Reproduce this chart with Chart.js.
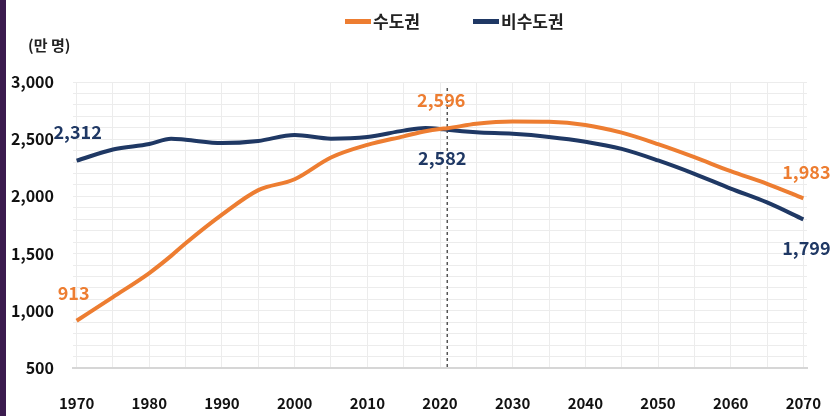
<!DOCTYPE html>
<html>
<head>
<meta charset="utf-8">
<script src="https://cdn.jsdelivr.net/npm/chart.js@4.4.1/dist/chart.umd.min.js"></script>
<style>
  html, body { margin: 0; padding: 0; background: #fff; }
  #wrap { position: relative; width: 833px; height: 416px; }
  #bar { position: absolute; left: 0; top: 0; width: 6px; height: 416px; background: #3b1b4e; }
</style>
</head>
<body>
<div id="wrap">
  <canvas id="popChart" width="833" height="416"></canvas>
  <div id="bar"></div>
</div>
<script>
const years = [1970, 1975, 1980, 1983, 1985, 1990, 1995, 2000, 2005, 2010, 2015, 2018, 2020, 2021, 2025, 2030, 2035, 2040, 2045, 2050, 2055, 2060, 2065, 2070];
const capital = [913, 1120, 1330, 1480, 1590, 1840, 2055, 2150, 2340, 2450, 2525, 2570, 2590, 2596, 2635, 2655, 2652, 2624, 2557, 2457, 2343, 2220, 2110, 1983];
const nonCapital = [2312, 2410, 2458, 2505, 2495, 2466, 2485, 2537, 2505, 2520, 2575, 2598, 2590, 2582, 2560, 2547, 2520, 2478, 2415, 2314, 2197, 2068, 1947, 1799];
const seriesNames = ["수도권", "비수도권"];
const seriesColors = ["#ED7D31", "#1F3864"];
const tickYears = [1970, 1975, 1980, 1985, 1990, 1995, 2000, 2005, 2010, 2015, 2020, 2025, 2030, 2035, 2040, 2045, 2050, 2055, 2060, 2065, 2070];
const labelYears = [1970, 2021, 2070];
const baseYear = 2021;
const unitText = "(만 명)";

// label offsets from the point, per dataset and year
const labelOffsets = [
  { 1970: [-3, -28], 2021: [-6, -28], 2070: [3, -26] },
  { 1970: [1, -29], 2021: [-5, 28], 2070: [3, 29] },
];

const FONT = "'Noto Sans CJK KR', 'Noto Sans', sans-serif";
Chart.defaults.font.family = FONT;

const extras = {
  id: "extras",
  beforeDatasetsDraw(chart) {
    const { ctx, chartArea, scales } = chart;
    const x = scales.x.getPixelForValue(baseYear);
    ctx.save();
    ctx.strokeStyle = "#555";
    ctx.lineWidth = 1.5;
    ctx.setLineDash([3, 3]);
    ctx.beginPath();
    ctx.moveTo(x, 88);
    ctx.lineTo(x, chartArea.bottom);
    ctx.stroke();
    ctx.restore();
  },
  afterDatasetsDraw(chart) {
    const { ctx } = chart;
    ctx.save();
    ctx.textAlign = "center";
    ctx.textBaseline = "middle";
    ctx.font = "bold 18px " + FONT;
    chart.data.datasets.forEach((ds, di) => {
      const meta = chart.getDatasetMeta(di);
      labelYears.forEach((yr) => {
        const i = years.indexOf(yr);
        const pt = meta.data[i];
        const off = labelOffsets[di][yr];
        ctx.fillStyle = ds.borderColor;
        ctx.fillText(ds.data[i].y.toLocaleString("en-US"), pt.x + off[0], pt.y + off[1]);
      });
    });

    // unit label
    ctx.textAlign = "left";
    ctx.fillStyle = "#222";
    ctx.font = "bold 15px " + FONT;
    ctx.fillText(unitText, 28, 45);

    // legend
    const legendX = [345, 473];
    ctx.font = "bold 17px " + FONT;
    chart.data.datasets.forEach((ds, di) => {
      const lx = legendX[di];
      ctx.fillStyle = ds.borderColor;
      ctx.fillRect(lx, 19, 26, 5);
      ctx.fillStyle = "#222";
      ctx.fillText(ds.label, lx + 28, 22);
    });
    ctx.restore();
  },
};

new Chart("popChart", {
  type: "line",
  data: {
    datasets: [
      {
        label: seriesNames[0],
        data: years.map((y, i) => ({ x: y, y: capital[i] })),
        borderColor: seriesColors[0],
        backgroundColor: seriesColors[0],
        borderWidth: 4,
        pointRadius: 0,
        cubicInterpolationMode: "monotone",
      },
      {
        label: seriesNames[1],
        data: years.map((y, i) => ({ x: y, y: nonCapital[i] })),
        borderColor: seriesColors[1],
        backgroundColor: seriesColors[1],
        borderWidth: 4,
        pointRadius: 0,
        cubicInterpolationMode: "monotone",
      },
    ],
  },
  options: {
    responsive: false,
    animation: false,
    layout: { padding: { top: 82, right: 26, left: 0, bottom: 0 } },
    plugins: {
      legend: { display: false },
      tooltip: { enabled: false },
    },
    scales: {
      x: {
        type: "linear",
        min: 1969.5,
        max: 2070.5,
        afterBuildTicks: (s) => {
          s.ticks = tickYears.map((v) => ({ value: v }));
        },
        ticks: {
          autoSkip: false,
          maxRotation: 0,
          padding: 26,
          color: "#111",
          font: { size: 15, weight: "bold" },
          callback: (v) => (v % 10 === 0 ? String(v) : ""),
        },
        grid: { color: "#ececec", drawTicks: false },
        border: { display: true, color: "#d6d6d6", width: 2 },
        afterFit: (s) => {
          s.height = 48;
          s.paddingLeft = 0;
          s.paddingRight = 0;
        },
      },
      y: {
        min: 500,
        max: 3000,
        ticks: {
          stepSize: 100,
          autoSkip: false,
          padding: 19,
          color: "#111",
          font: { size: 16, weight: "bold" },
          callback: (v) => (v % 500 === 0 ? v.toLocaleString("en-US") : ""),
        },
        grid: { color: "#ececec", drawTicks: false },
        border: { display: false },
        afterFit: (s) => {
          s.width = 73;
        },
      },
    },
  },
  plugins: [extras],
});
</script>
</body>
</html>
